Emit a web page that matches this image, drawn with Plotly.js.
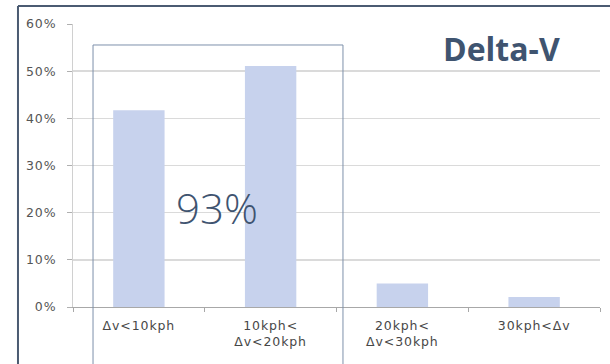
<!DOCTYPE html>
<html>
<head>
<meta charset="utf-8">
<script src="https://cdn.plot.ly/plotly-3.0.1.min.js"></script>
<style>
html,body{margin:0;padding:0;background:#fff;}
.xtick text,.ytick text{letter-spacing:0.9px;}
</style>
</head>
<body>
<div id="chart" style="width:610px;height:364px;"></div>
<script>
const categories = ["Δv&lt;10kph", "10kph&lt;<br>Δv&lt;20kph", "20kph&lt;<br>Δv&lt;30kph", "30kph&lt;Δv"];
const shares = [0.417, 0.511, 0.050, 0.021];
const yTicks = [0, 0.1, 0.2, 0.3, 0.4, 0.5, 0.6];
const titleText = "Delta-V";
const highlightText = "93%";

const trace = {
  type: "bar",
  x: categories,
  y: shares,
  width: 0.39,
  marker: {color: "#c7d2ed", line: {width: 0}},
  hoverinfo: "skip"
};

const layout = {
  width: 610, height: 364,
  margin: {l: 73, r: 10, t: 24, b: 57},
  paper_bgcolor: "#ffffff",
  plot_bgcolor: "#ffffff",
  showlegend: false,
  font: {family: "DejaVu Sans, Arial, sans-serif", size: 12, color: "#555555"},
  xaxis: {
    type: "category",
    range: [-0.5, 3.5],
    tickson: "boundaries",
    ticks: "outside", ticklen: 4, tickcolor: "#a8a8a8", tickwidth: 1,
    showline: true, linecolor: "#a8a8a8", linewidth: 1,
    showgrid: false, zeroline: false,
    tickfont: {family: "DejaVu Sans, Arial, sans-serif", size: 12.5, color: "#474747"},
    ticklabelstandoff: 7
  },
  yaxis: {
    range: [0, 0.6],
    tickvals: yTicks,
    tickformat: ".0%",
    ticks: "outside", ticklen: 5, tickcolor: "#b0b0b0", tickwidth: 1,
    showline: true, linecolor: "#d0d0d0", linewidth: 1,
    showgrid: true, gridcolor: "#dadada", gridwidth: 1.6,
    zeroline: false,
    tickfont: {family: "DejaVu Sans, Arial, sans-serif", size: 12.5, color: "#555555"},
    ticklabelstandoff: 8
  },
  shapes: [
    {type: "line", xref: "paper", yref: "paper", x0: -0.1044, x1: 1.03, y0: 1.0636, y1: 1.0636,
     line: {color: "#4b5b72", width: 2}},
    {type: "line", xref: "paper", yref: "paper", x0: -0.1044, x1: -0.1044, y0: 1.0636, y1: -0.3,
     line: {color: "#4b5b72", width: 2}},
    {type: "rect", xref: "paper", yref: "paper", x0: 0.038, x1: 0.5123, y0: -0.3, y1: 0.9258,
     line: {color: "#7d90ab", width: 1}, fillcolor: "rgba(0,0,0,0)"}
  ],
  annotations: [
    {text: "<b>" + titleText + "</b>", xref: "paper", yref: "paper", x: 0.814, y: 0.913,
     xanchor: "center", yanchor: "middle", showarrow: false,
     font: {family: "Open Sans, Noto Sans, sans-serif", size: 32, color: "#3f5470"}},
    {text: highlightText, xref: "paper", yref: "paper", x: 0.274, y: 0.35,
     xanchor: "center", yanchor: "middle", showarrow: false,
     font: {family: "Open Sans, Noto Sans, sans-serif", size: 42, weight: 300, color: "#3f5470"}}
  ]
};

Plotly.newPlot("chart", [trace], layout, {staticPlot: true, displayModeBar: false});
</script>
</body>
</html>
